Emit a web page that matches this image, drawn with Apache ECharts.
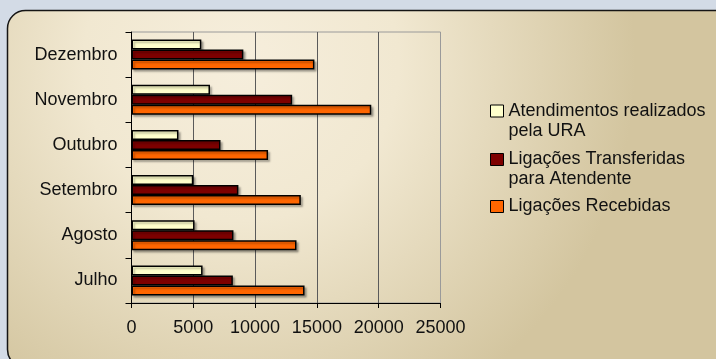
<!DOCTYPE html>
<html>
<head>
<meta charset="utf-8">
<script src="https://cdn.jsdelivr.net/npm/echarts@6/dist/echarts.min.js"></script>
<style>
  html, body { margin: 0; padding: 0; background: #d3dbe6; }
  #chart { width: 716px; height: 359px; }
</style>
</head>
<body>
<div id="chart"></div>
<script>
// Monthly call-centre volumes
const months = ['Julho', 'Agosto', 'Setembro', 'Outubro', 'Novembro', 'Dezembro'];
const atendimentosURA = [5750, 5100, 5000, 3800, 6350, 5650];
const transferidas = [8200, 8250, 8650, 7200, 13000, 9050];
const recebidas = [14000, 13350, 13700, 11050, 19400, 14800];

const seriesNames = ['Atendimentos realizados pela URA', 'Ligações Transferidas para Atendente', 'Ligações Recebidas'];
const legendLines = [['Atendimentos realizados', 'pela URA'], ['Ligações Transferidas', 'para Atendente'], ['Ligações Recebidas']];
const xTicks = { min: 0, max: 25000, step: 5000 };

const FONT = '"Liberation Sans", Arial, sans-serif';
const chart = echarts.init(document.getElementById('chart'), null, { renderer: 'canvas' });

function barSeries(name, values, color) {
  return {
    name: name,
    type: 'bar',
    data: values,
    barWidth: 10,
    barGap: '0%',
    itemStyle: {
      color: color,
      borderColor: '#000',
      borderWidth: 1.5,
      shadowColor: 'rgba(0,0,0,0.28)',
      shadowBlur: 2,
      shadowOffsetX: 2,
      shadowOffsetY: 2
    }
  };
}

// Each legend entry is placed on its own; wrapped entries get a blank
// leading line so the swatch lines up with the first text line.
function legendFor(idx, top) {
  const lines = legendLines[idx];
  const text = lines.length > 1 ? '\n' + lines.join('\n') : lines[0];
  return {
    data: [seriesNames[idx]],
    orient: 'vertical',
    left: 490,
    top: top,
    padding: 0,
    icon: 'rect',
    itemWidth: 13,
    itemHeight: 12,
    itemGap: 0,
    formatter: function () { return text; },
    itemStyle: { borderColor: '#000', borderWidth: 1, shadowBlur: 0, shadowOffsetX: 0, shadowOffsetY: 0 },
    textStyle: {
      fontFamily: FONT,
      fontSize: 18,
      lineHeight: 20,
      color: '#111'
    }
  };
}

const option = {
  backgroundColor: '#d3dbe6',
  animation: false,
  graphic: {
    elements: [{
      type: 'rect',
      z: -100,
      silent: true,
      shape: { x: 7.5, y: 10.5, width: 780, height: 357, r: 18 },
      style: {
        fill: new echarts.graphic.RadialGradient(0.3, 0.15, 1.1, [
          { offset: 0, color: '#f6eedc' },
          { offset: 0.4, color: '#f1e8d1' },
          { offset: 1, color: '#d3c59f' }
        ]),
        stroke: '#151515',
        lineWidth: 1.5
      }
    }]
  },
  grid: {
    left: 131.5,
    right: 275.5,
    top: 32,
    bottom: 56,
    show: true,
    backgroundColor: 'transparent',
    borderColor: '#9a9a9a',
    borderWidth: 1
  },
  legend: [
    legendFor(0, 81),
    legendFor(1, 129.5),
    legendFor(2, 196.5)
  ],
  xAxis: {
    type: 'value',
    min: xTicks.min,
    max: xTicks.max,
    interval: xTicks.step,
    axisLine: { show: true, lineStyle: { color: '#000', width: 1 } },
    axisTick: { show: true, length: 5, lineStyle: { color: '#000' } },
    axisLabel: { fontFamily: FONT, fontSize: 18, color: '#111', margin: 16, formatter: function (v) { return String(v); } },
    splitLine: { show: true, showMinLine: false, showMaxLine: false, lineStyle: { color: '#5a5a5a', width: 1 } }
  },
  yAxis: {
    type: 'category',
    data: months,
    axisLine: { show: true, lineStyle: { color: '#000', width: 1 } },
    axisTick: { show: true, length: 6, alignWithLabel: false, lineStyle: { color: '#000' } },
    axisLabel: { fontFamily: FONT, fontSize: 18, color: '#111', margin: 14 },
    splitLine: { show: false }
  },
  // Within each month the URA bar sits on top, received calls at the bottom
  series: [
    barSeries(seriesNames[0], atendimentosURA, '#ffffcc'),
    barSeries(seriesNames[1], transferidas, '#7d0000'),
    barSeries(seriesNames[2], recebidas, '#ff6600')
  ]
};

chart.setOption(option);
</script>
</body>
</html>
